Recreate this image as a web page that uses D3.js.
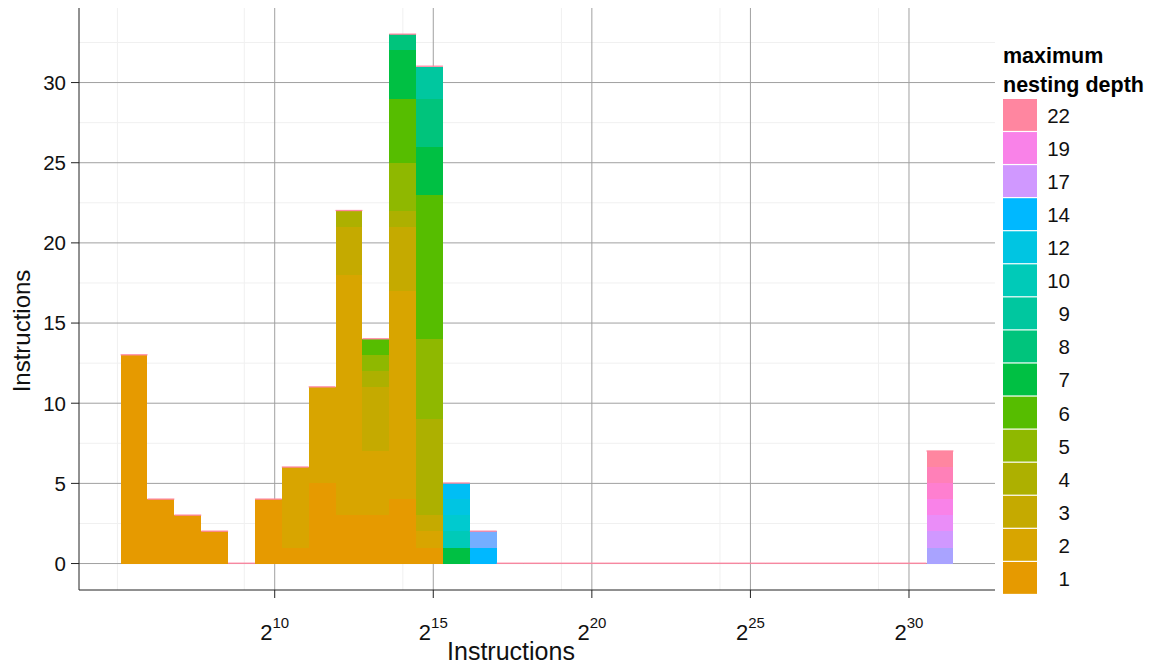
<!DOCTYPE html>
<html lang="en">
<head>
<meta charset="UTF-8">
<title>Instructions histogram</title>
<style>
  body { margin: 0; background: #fff; }
  svg { display: block; font-family: "Liberation Sans", Arial, sans-serif; }
</style>
</head>
<body>
<div id="chart"></div>
<script src="https://cdn.jsdelivr.net/npm/d3@7"></script>
<script>
// histogram bins on a log2 scale of instruction counts
const binStartLog2 = 5.142;
const binWidthLog2 = 0.847;
const binCount = 31;

// maximum nesting depth levels (stack order, bottom to top)
const depths = [1, 2, 3, 4, 5, 6, 7, 8, 9, 10, 11, 12, 13, 14, 15, 16, 17, 18, 19, 20, 21, 22];
// depths shown in the legend
const legendDepths = [22, 19, 17, 14, 12, 10, 9, 8, 7, 6, 5, 4, 3, 2, 1];

// counts per bin: [bin, depth, count]
const counts = [
  [0, 1, 13],
  [1, 1, 4],
  [2, 1, 3],
  [3, 1, 2],
  [5, 1, 4],
  [6, 1, 1], [6, 2, 5],
  [7, 1, 5], [7, 2, 6],
  [8, 1, 3], [8, 2, 15], [8, 3, 3], [8, 4, 1],
  [9, 1, 3], [9, 2, 4], [9, 3, 4], [9, 4, 1], [9, 5, 1], [9, 6, 1],
  [10, 1, 4], [10, 2, 13], [10, 3, 4], [10, 4, 1], [10, 5, 3], [10, 6, 4], [10, 7, 3], [10, 8, 1],
  [11, 1, 1], [11, 2, 1], [11, 3, 1], [11, 4, 6], [11, 5, 5], [11, 6, 9], [11, 7, 3], [11, 8, 3], [11, 9, 2],
  [12, 7, 1], [12, 10, 1], [12, 11, 1], [12, 12, 1], [12, 13, 1],
  [13, 14, 1], [13, 15, 1],
  [30, 16, 1], [30, 17, 1], [30, 18, 1], [30, 19, 1], [30, 20, 1], [30, 21, 1], [30, 22, 1]
];

const xTickExps = [10, 15, 20, 25, 30];
const xMinorExps = [5.04, 9.04, 14.04, 19.04, 24.04, 29.04];
const yTicks = [0, 5, 10, 15, 20, 25, 30];
const yMinor = [2.5, 7.5, 12.5, 17.5, 22.5, 27.5, 32.5];

const palette = [
  "#E69A00", "#D8A500", "#C5AA00", "#ADB000", "#8FB800", "#56BD00", "#00C043", "#00C47C",
  "#00C79F", "#00CAB8", "#00CACF", "#00C5E2", "#00BEF5", "#00B8FF", "#75AEFF", "#A9A3FF",
  "#D098FF", "#EA8DF8", "#F982E8", "#FE7FD0", "#FF80B8", "#FF86A0"
];

function draw() {
  const width = 1158, height = 669;
  const panel = { left: 79, right: 995, top: 8, bottom: 590 };

  // build table: one row per bin
  const table = d3.range(binCount).map(i => {
    const row = { bin: i, lo: Math.pow(2, binStartLog2 + i * binWidthLog2), hi: Math.pow(2, binStartLog2 + (i + 1) * binWidthLog2) };
    depths.forEach(d => row[d] = 0);
    return row;
  });
  counts.forEach(([b, d, n]) => table[b][d] += n);
  table.forEach(r => r.total = d3.sum(depths, d => r[d]));

  const series = d3.stack().keys(depths)(table);

  // ggplot-style 5% expansion
  const lo = binStartLog2, hi = binStartLog2 + binCount * binWidthLog2;
  const xe = (hi - lo) * 0.05;
  const x = d3.scaleLog().base(2)
    .domain([Math.pow(2, lo - xe), Math.pow(2, hi + xe)])
    .range([panel.left, panel.right]);

  const yMax = d3.max(table, r => r.total);
  const y = d3.scaleLinear()
    .domain([-yMax * 0.05, yMax * 1.05])
    .range([panel.bottom, panel.top]);

  const color = d3.scaleOrdinal().domain(depths).range(palette);

  const svg = d3.select("#chart").append("svg")
    .attr("width", width)
    .attr("height", height);

  // grid
  const grid = svg.append("g");
  grid.selectAll(".ymin").data(yMinor).join("line")
    .attr("x1", panel.left).attr("x2", panel.right)
    .attr("y1", d => y(d)).attr("y2", d => y(d))
    .attr("stroke", "#f0f0f0").attr("stroke-width", 1);
  grid.selectAll(".xmin").data(xMinorExps).join("line")
    .attr("x1", d => x(Math.pow(2, d))).attr("x2", d => x(Math.pow(2, d)))
    .attr("y1", panel.top).attr("y2", panel.bottom)
    .attr("stroke", "#f0f0f0").attr("stroke-width", 1);
  grid.selectAll(".ymaj").data(yTicks).join("line")
    .attr("x1", panel.left).attr("x2", panel.right)
    .attr("y1", d => y(d)).attr("y2", d => y(d))
    .attr("stroke", "#a0a0a0").attr("stroke-width", 1);
  grid.selectAll(".xmaj").data(xTickExps).join("line")
    .attr("x1", d => x(Math.pow(2, d))).attr("x2", d => x(Math.pow(2, d)))
    .attr("y1", panel.top).attr("y2", panel.bottom)
    .attr("stroke", "#a0a0a0").attr("stroke-width", 1);

  // stacked bars
  svg.append("g")
    .attr("shape-rendering", "crispEdges")
    .selectAll("g")
    .data(series)
    .join("g")
    .attr("fill", d => color(d.key))
    .selectAll("rect")
    .data(D => D.filter(d => d[1] > d[0]))
    .join("rect")
    .attr("x", d => x(d.data.lo))
    .attr("width", d => x(d.data.hi) - x(d.data.lo))
    .attr("y", d => y(d[1]))
    .attr("height", d => y(d[0]) - y(d[1]));

  // zero-height top layer shows as a thin line on every bin
  svg.append("g")
    .selectAll("line")
    .data(table)
    .join("line")
    .attr("x1", d => x(d.lo)).attr("x2", d => x(d.hi))
    .attr("y1", d => y(d.total) - 0.3).attr("y2", d => y(d.total) - 0.3)
    .attr("stroke", color(22)).attr("stroke-width", 1.3);

  // axes lines
  svg.append("line")
    .attr("x1", panel.left).attr("x2", panel.left)
    .attr("y1", panel.top).attr("y2", panel.bottom)
    .attr("stroke", "#222").attr("stroke-width", 1);
  svg.append("line")
    .attr("x1", panel.left).attr("x2", panel.right)
    .attr("y1", panel.bottom).attr("y2", panel.bottom)
    .attr("stroke", "#222").attr("stroke-width", 1);

  // y ticks
  const yAxis = svg.append("g");
  yAxis.selectAll("line").data(yTicks).join("line")
    .attr("x1", panel.left - 8).attr("x2", panel.left)
    .attr("y1", d => y(d)).attr("y2", d => y(d))
    .attr("stroke", "#222");
  yAxis.selectAll("text").data(yTicks).join("text")
    .attr("x", panel.left - 13)
    .attr("y", d => y(d))
    .attr("dy", "0.36em")
    .attr("text-anchor", "end")
    .attr("font-size", 20.5)
    .attr("fill", "#111")
    .text(d => d);

  // x ticks
  const xAxis = svg.append("g");
  xAxis.selectAll("line").data(xTickExps).join("line")
    .attr("x1", d => x(Math.pow(2, d))).attr("x2", d => x(Math.pow(2, d)))
    .attr("y1", panel.bottom).attr("y2", panel.bottom + 8)
    .attr("stroke", "#222");
  const xl = xAxis.selectAll("text").data(xTickExps).join("text")
    .attr("x", d => x(Math.pow(2, d)))
    .attr("y", panel.bottom + 50)
    .attr("text-anchor", "middle")
    .attr("fill", "#111");
  xl.append("tspan").attr("font-size", 22).text("2");
  xl.append("tspan").attr("font-size", 15).attr("dy", -12).text(d => d);

  // axis titles
  svg.append("text")
    .attr("x", 511)
    .attr("y", 660)
    .attr("text-anchor", "middle")
    .attr("font-size", 25)
    .attr("fill", "#111")
    .text("Instructions");
  svg.append("text")
    .attr("transform", "translate(30,331) rotate(-90)")
    .attr("text-anchor", "middle")
    .attr("font-size", 24)
    .attr("fill", "#111")
    .text("Instructions");

  // legend
  const lg = svg.append("g").attr("transform", "translate(1003,0)");
  lg.append("text")
    .attr("y", 63)
    .attr("font-size", 21.5)
    .attr("font-weight", "bold")
    .text("maximum");
  lg.append("text")
    .attr("y", 92)
    .attr("font-size", 21.5)
    .attr("font-weight", "bold")
    .text("nesting depth");
  const keyH = 33.07;
  const item = lg.selectAll("g.key").data(legendDepths).join("g")
    .attr("transform", (d, i) => `translate(0,${99 + i * keyH})`);
  item.append("rect")
    .attr("width", 34)
    .attr("height", keyH - 1.2)
    .attr("fill", d => color(d));
  item.append("text")
    .attr("x", 67)
    .attr("y", keyH / 2)
    .attr("dy", "0.36em")
    .attr("text-anchor", "end")
    .attr("font-size", 20.5)
    .attr("fill", "#111")
    .text(d => d);
}

document.addEventListener("DOMContentLoaded", draw);
</script>
</body>
</html>
